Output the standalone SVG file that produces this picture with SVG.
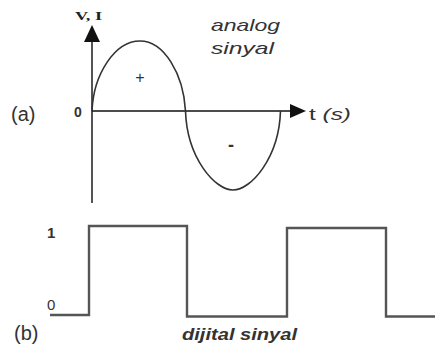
<svg xmlns="http://www.w3.org/2000/svg" width="435" height="352" viewBox="0 0 435 352">
<style>
.lbl{font-family:"Liberation Sans",Arial,sans-serif;fill:#333}
.it{font-style:italic}
.serif{font-family:"Liberation Serif","Times New Roman",serif;font-weight:bold;fill:#222}
</style>
<rect width="435" height="352" fill="#fff"/>
<g id="axes">
<line x1="92" y1="40" x2="92" y2="203" stroke="#555" stroke-width="2"/>
<polygon points="92,25 100,42 84,42" fill="#111"/>
<line x1="92" y1="111" x2="292" y2="111" stroke="#111" stroke-width="1.6"/>
<polygon points="306,111 290,104 290,118" fill="#111"/>
</g>
<g id="analog-wave">
<path d="M92,111 C93.5,74 115,41 140,41 C164,41 183.5,74 185.5,111 C187,158 215,190 233,190 C251,190 279,158 280.5,111" fill="none" stroke="#333" stroke-width="1.6"/>
</g>
<g id="digital-wave">
<path d="M50,315 H89 V226 H187 V316.5 H287 V228 H386 V316.5 H435" fill="none" stroke="#555" stroke-width="2.4"/>
</g>
<g id="labels">
<text class="serif" x="75" y="20" font-size="13" textLength="27" lengthAdjust="spacingAndGlyphs">V, I</text>
<text class="lbl it" x="211" y="31" font-size="17" textLength="69" lengthAdjust="spacingAndGlyphs">analog</text>
<text class="lbl it" x="211" y="54" font-size="17" textLength="63" lengthAdjust="spacingAndGlyphs">sinyal</text>
<text class="lbl" x="140" y="83" font-size="16" text-anchor="middle">+</text>
<text class="lbl" x="231" y="151" font-size="18" font-weight="bold" text-anchor="middle">-</text>
<text class="lbl" x="11" y="121" font-size="20" fill="#555">(a)</text>
<text class="lbl" x="74" y="117" font-size="14" font-weight="bold">0</text>
<text class="lbl" x="309" y="120" font-size="17" textLength="42" lengthAdjust="spacingAndGlyphs">t <tspan class="it">(s)</tspan></text>
<text class="lbl" x="47" y="238" font-size="15" font-weight="bold" fill="#555">1</text>
<text class="lbl" x="47" y="310" font-size="15" fill="#555">0</text>
<text class="lbl" x="14" y="340" font-size="20" fill="#555">(b)</text>
<text class="lbl it" x="182" y="340" font-size="17" font-weight="bold" textLength="115" lengthAdjust="spacingAndGlyphs">dijital sinyal</text>
</g>
</svg>
